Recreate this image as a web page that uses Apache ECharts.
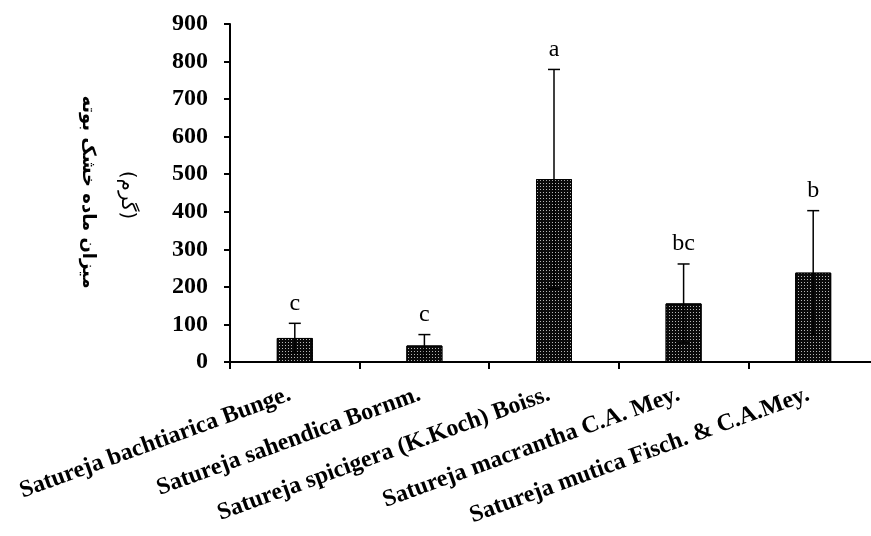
<!DOCTYPE html>
<html>
<head>
<meta charset="utf-8">
<script src="https://cdn.jsdelivr.net/npm/echarts@6/dist/echarts.min.js"></script>
<style>
html,body{margin:0;padding:0;background:#fff;}
#chart{width:871px;height:536px;}
</style>
</head>
<body>
<div id="chart"></div>
<script>
var categories = [
  'Satureja bachtiarica Bunge.',
  'Satureja sahendica Bornm.',
  'Satureja spicigera (K.Koch) Boiss.',
  'Satureja macrantha C.A. Mey.',
  'Satureja mutica Fisch. & C.A.Mey.'
];
var means = [64, 44, 487, 156, 238];
var errors = [39, 29, 292, 105, 165];
var letters = ['c', 'c', 'a', 'bc', 'b'];
var yTicks = [0, 100, 200, 300, 400, 500, 600, 700, 800, 900];
var yTitleLine1 = 'میزان ماده خشک بوته';
var yTitleLine2 = '(گرم)';

var errData = means.map(function (m, i) { return [i, m, errors[i], letters[i]]; });

var chart = echarts.init(document.getElementById('chart'));
var serif = '"Liberation Serif", "Times New Roman", serif';
chart.setOption({
  animation: false,
  backgroundColor: '#fff',
  grid: { left: 230, width: 648, top: 24, bottom: 174, containLabel: false, outerBoundsMode: 'none' },
  xAxis: {
    type: 'category',
    data: categories,
    boundaryGap: true,
    axisLine: { show: true, lineStyle: { color: '#000', width: 2 } },
    axisTick: { show: true, length: 7, inside: false, alignWithLabel: false, lineStyle: { color: '#000', width: 2 } },
    axisLabel: {
      interval: 0, rotate: 20, margin: 30, padding: [0, 5, 0, 0],
      fontFamily: serif, fontWeight: 'bold', fontSize: 24, color: '#000'
    },
    splitLine: { show: false }
  },
  yAxis: {
    type: 'value',
    min: yTicks[0], max: yTicks[yTicks.length - 1], interval: 100,
    axisLine: { show: true, lineStyle: { color: '#000', width: 2 } },
    axisTick: { show: true, length: 6, lineStyle: { color: '#000', width: 2 } },
    axisLabel: { margin: 22, fontFamily: serif, fontWeight: 'bold', fontSize: 24, color: '#000' },
    splitLine: { show: false }
  },
  series: [
    {
      type: 'bar',
      data: means,
      barWidth: 36,
      itemStyle: {
        color: '#0a0a0a',
        borderColor: '#000',
        borderWidth: 1,
        decal: {
          symbol: 'rect',
          symbolSize: 1,
          color: 'rgba(255,255,255,0.7)',
          dashArrayX: [1, 2],
          dashArrayY: [1, 2],
          rotation: 0
        }
      },
      z: 2
    },
    {
      type: 'custom',
      data: errData,
      z: 5,
      renderItem: function (params, api) {
        var i = api.value(0), m = api.value(1), e = api.value(2);
        var top = api.coord([i, m + e]);
        var bot = api.coord([i, m - e]);
        var x = top[0];
        var cw = 6;
        var style = { stroke: '#000', lineWidth: 1.5 };
        return {
          type: 'group',
          children: [
            { type: 'line', shape: { x1: x, y1: top[1], x2: x, y2: bot[1] }, style: style },
            { type: 'line', shape: { x1: x - cw, y1: top[1], x2: x + cw, y2: top[1] }, style: style },
            { type: 'line', shape: { x1: x - cw, y1: bot[1], x2: x + cw, y2: bot[1] }, style: style },
            { type: 'text', x: x, y: top[1] - 8,
              style: { text: letters[params.dataIndex], fill: '#000', font: '24px ' + serif, align: 'center', verticalAlign: 'bottom' } }
          ]
        };
      }
    }
  ],
  graphic: [
    { type: 'text', x: 88, y: 192, rotation: -Math.PI / 2,
      style: { text: yTitleLine1, x: 0, y: 0, align: 'center', verticalAlign: 'middle',
        font: 'bold 18px "DejaVu Sans", sans-serif', fill: '#000' } },
    { type: 'text', x: 127, y: 195, rotation: -Math.PI / 2,
      style: { text: yTitleLine2, x: 0, y: 0, align: 'center', verticalAlign: 'middle',
        font: '20px "DejaVu Sans", sans-serif', fill: '#000' } }
  ]
});
</script>
</body>
</html>
